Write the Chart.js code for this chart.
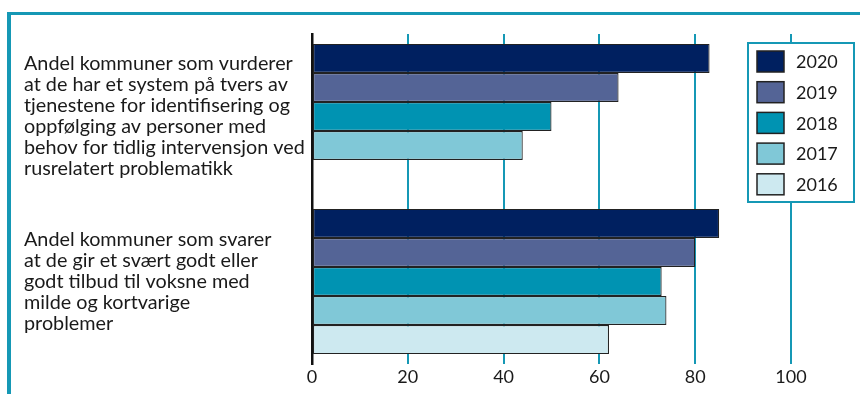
<!DOCTYPE html>
<html>
<head>
<meta charset="utf-8">
<script src="https://cdn.jsdelivr.net/npm/chart.js@4"></script>
<style>
  html, body { margin: 0; padding: 0; background: #fff; }
  #wrap { position: relative; width: 860px; height: 394px; overflow: hidden; }
  /* teal frame, only top and left edges are visible */
  #frame { position: absolute; left: 7px; top: 12px; width: 900px; height: 420px;
           border-top: 3px solid #1598b5; border-left: 4px solid #1598b5; }
  canvas { position: absolute; left: 0; top: 0; }
</style>
</head>
<body>
<div id="wrap">
  <div id="frame"></div>
  <canvas id="chart" width="860" height="394"></canvas>
</div>
<script>
/* ---------- data ---------- */
const categories = [
  ["Andel kommuner som vurderer",
   "at de har et system på tvers av",
   "tjenestene for identifisering og",
   "oppfølging av personer med",
   "behov for tidlig intervensjon ved",
   "rusrelatert problematikk"],
  ["Andel kommuner som svarer",
   "at de gir et svært godt eller",
   "godt tilbud til voksne med",
   "milde og kortvarige",
   "problemer"]
];
const years = ["2020", "2019", "2018", "2017", "2016"];
const v2020 = [83, 85];
const v2019 = [64, 80];
const v2018 = [50, 73];
const v2017 = [44, 74];
const v2016 = [null, 62];
const xTicks = [0, 20, 40, 60, 80, 100];

const colors = ["#002060", "#546496", "#0093b2", "#80c8d7", "#cde9f0"];
const teal = "#1598b5";
const ink = "#1a1a1a";
const FONT = "Lato, 'Noto Sans', sans-serif";

const series = [v2020, v2019, v2018, v2017, v2016];

/* ---------- legend box drawn over the plot ---------- */
const boxLegend = {
  id: "boxLegend",
  afterDraw(chart) {
    const ctx = chart.ctx;
    const bx = 748, by = 43, bw = 106, bh = 159;
    ctx.save();
    ctx.fillStyle = "#fff";
    ctx.fillRect(bx, by, bw, bh);
    ctx.strokeStyle = teal;
    ctx.lineWidth = 2;
    ctx.strokeRect(bx, by, bw, bh);

    ctx.font = "18px " + FONT;
    ctx.textBaseline = "middle";
    ctx.textAlign = "left";
    chart.data.datasets.forEach((ds, i) => {
      const y = by + 8 + i * 30.7;
      ctx.fillStyle = ds.backgroundColor;
      ctx.fillRect(bx + 9, y, 27, 21);
      ctx.strokeStyle = "#222";
      ctx.lineWidth = 1.5;
      ctx.strokeRect(bx + 9, y, 27, 21);
      ctx.fillStyle = ink;
      ctx.fillText(ds.label, bx + 48, y + 11.5);
    });
    ctx.restore();
  }
};

new Chart(document.getElementById("chart"), {
  type: "bar",
  data: {
    labels: categories,
    datasets: years.map((y, i) => ({
      label: y,
      data: series[i],
      backgroundColor: colors[i],
      borderColor: "#222",
      borderWidth: 1.2,
      borderSkipped: false,
      barPercentage: 1,
      categoryPercentage: 0.88
    }))
  },
  options: {
    indexAxis: "y",
    responsive: false,
    animation: false,
    layout: { padding: { left: 24, top: 34, right: 69, bottom: 0 } },
    plugins: { legend: { display: false }, tooltip: { enabled: false } },
    scales: {
      x: {
        min: 0, max: 100,
        afterBuildTicks: s => { s.ticks = xTicks.map(v => ({ value: v })); },
        afterFit: s => { s.height = 30; s.paddingLeft = 0; s.paddingRight = 0; },
        grid: { color: teal, lineWidth: 2, drawTicks: false },
        border: { display: false },
        ticks: { padding: 2, color: ink, font: { family: FONT, size: 18 } }
      },
      y: {
        // fixed label column; tall labels must not shrink the plot
        afterFit: s => { s.width = 288; s.paddingTop = 0; s.paddingBottom = 0; },
        grid: { display: false },
        border: { color: "#111", width: 2.5 },
        ticks: {
          crossAlign: "far",
          color: ink,
          font: { family: FONT, size: 19.8, lineHeight: 1.06 }
        }
      }
    }
  },
  plugins: [boxLegend]
});
</script>
</body>
</html>
